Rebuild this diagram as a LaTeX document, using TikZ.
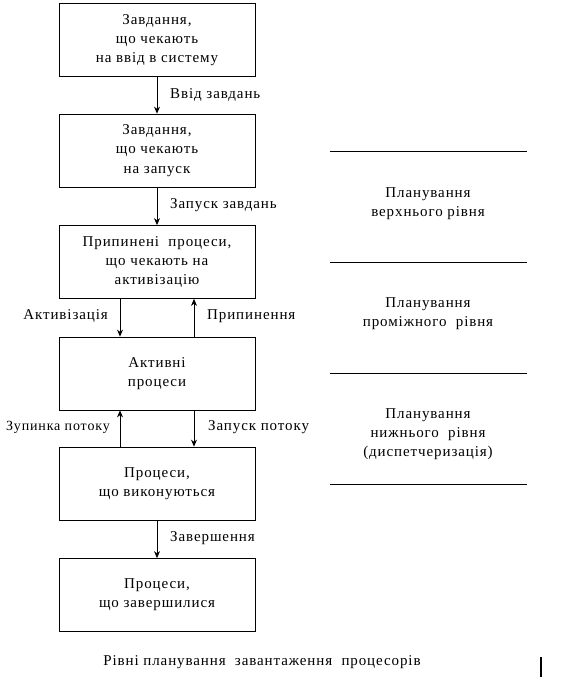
\documentclass[tikz,border=0pt]{standalone}
\usepackage{fontspec}
\setmainfont{Liberation Serif}[LetterSpace=6]
\usetikzlibrary{arrows.meta}
\begin{document}
\begin{tikzpicture}[x=1pt,y=-1pt,
  box/.style={draw,line width=0.8pt,minimum width=196pt,minimum height=73pt,align=center,inner sep=0pt,font=\fontsize{15}{19.3}\selectfont},
  lbl/.style={font=\fontsize{15}{19.3}\selectfont,inner sep=0pt},
  arr/.style={line width=0.8pt,-{Stealth[length=7pt,width=6pt]}},
  sep/.style={line width=0.8pt}]
\useasboundingbox (0,0) rectangle (562,684);
\node[box] (b1) at (157,40) {Завдання,\\що чекають\\на ввід в систему};
\node[box] (b2) at (157,150.5) {Завдання,\\що чекають\\на запуск};
\node[box] (b3) at (157,262) {Припинені~ процеси,\\що чекають на\\активізацію};
\node[box] (b4) at (157,373.5) {Активні\\процеси};
\node[box] (b5) at (157,483.5) {Процеси,\\що виконуються};
\node[box] (b6) at (157,595) {Процеси,\\що завершилися};
\draw[arr] (b1) -- (b2);
\draw[arr] (b2) -- (b3);
\draw[arr] (b3.south-|120,0) -- (b4.north-|120,0);
\draw[arr] (b4.north-|194,0) -- (b3.south-|194,0);
\draw[arr] (b5.north-|120,0) -- (b4.south-|120,0);
\draw[arr] (b4.south-|194,0) -- (b5.north-|194,0);
\draw[arr] (b5) -- (b6);
\node[lbl,anchor=west] (l1) at (170,95) {Ввід завдань};
\node[lbl,anchor=west] (l2) at (170,205) {Запуск завдань};
\node[lbl,anchor=east] (l3) at (108,316) {Активізація};
\node[lbl,anchor=west] (l4) at (207,316) {Припинення};
\node[lbl,anchor=east,font=\fontsize{14}{18}\selectfont] (l5) at (110,427) {Зупинка потоку};
\node[lbl,anchor=west] (l6) at (208,427) {Запуск потоку};
\node[lbl,anchor=west] (l7) at (170,538) {Завершення};
\coordinate (s1a) at (330,151); \coordinate (s1b) at (527,151);
\coordinate (s2a) at (330,262); \coordinate (s2b) at (527,262);
\coordinate (s3a) at (330,373); \coordinate (s3b) at (527,373);
\coordinate (s4a) at (330,484); \coordinate (s4b) at (527,484);
\draw[sep] (s1a) -- (s1b);
\draw[sep] (s2a) -- (s2b);
\draw[sep] (s3a) -- (s3b);
\draw[sep] (s4a) -- (s4b);
\node[lbl,align=center] (t1) at (428,204) {Планування\\верхнього рівня};
\node[lbl,align=center] (t2) at (428,314) {Планування\\проміжного~ рівня};
\node[lbl,align=center] (t3) at (428,434) {Планування\\нижнього~ рівня\\(диспетчеризація)};
\node[lbl] (cap) at (262,662) {Рівні планування~ завантаження~ процесорів};
\coordinate (bar1) at (541,657); \coordinate (bar2) at (541,677);
\draw[line width=1.6pt] (bar1) -- (bar2);
\end{tikzpicture}
\end{document}
